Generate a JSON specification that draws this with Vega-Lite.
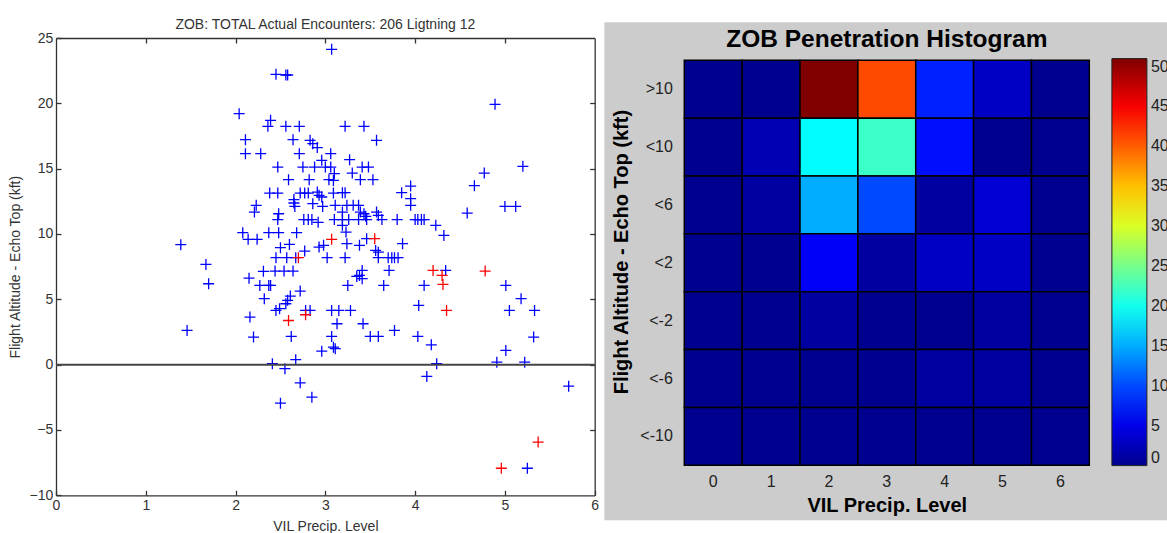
{
  "$schema": "https://vega.github.io/schema/vega-lite/v6.json",
  "background": "white",
  "padding": {"left": 8, "top": 18, "right": 0, "bottom": 0},
  "config": {"font": "Liberation Sans", "view": {"stroke": null}},
  "bounds": "flush",
  "spacing": 89.3,
  "resolve": {"scale": {"color": "independent"}},
  "hconcat": [
    {
      "width": 538.7,
      "height": 457.3,
      "title": {"text": "ZOB: TOTAL Actual Encounters: 206 Ligtning 12", "fontSize": 14, "fontWeight": "normal", "color": "#333", "frame": "group", "anchor": "middle", "offset": -1.3},
      "data": {"values": [
        {"vil":2.45,"alt":22.22,"lightning":"no"},{"vil":2.56,"alt":22.17,"lightning":"no"},{"vil":2.58,"alt":22.17,"lightning":"no"},
        {"vil":2.04,"alt":19.21,"lightning":"no"},{"vil":2.39,"alt":18.70,"lightning":"no"},{"vil":2.36,"alt":18.24,"lightning":"no"},
        {"vil":2.56,"alt":18.24,"lightning":"no"},{"vil":2.71,"alt":18.24,"lightning":"no"},{"vil":2.11,"alt":17.22,"lightning":"no"},
        {"vil":2.64,"alt":17.22,"lightning":"no"},{"vil":2.83,"alt":17.17,"lightning":"no"},{"vil":2.86,"alt":16.91,"lightning":"no"},
        {"vil":2.91,"alt":16.61,"lightning":"no"},{"vil":2.11,"alt":16.15,"lightning":"no"},{"vil":2.28,"alt":16.15,"lightning":"no"},
        {"vil":2.71,"alt":16.15,"lightning":"no"},{"vil":3.06,"alt":16.15,"lightning":"no"},{"vil":2.47,"alt":15.12,"lightning":"no"},
        {"vil":2.75,"alt":15.12,"lightning":"no"},{"vil":2.88,"alt":15.12,"lightning":"no"},{"vil":3.00,"alt":15.12,"lightning":"no"},
        {"vil":3.06,"alt":15.12,"lightning":"no"},{"vil":2.96,"alt":15.64,"lightning":"no"},{"vil":2.59,"alt":14.16,"lightning":"no"},
        {"vil":2.82,"alt":14.16,"lightning":"no"},{"vil":3.04,"alt":14.16,"lightning":"no"},{"vil":3.09,"alt":14.10,"lightning":"no"},
        {"vil":2.38,"alt":13.13,"lightning":"no"},{"vil":2.47,"alt":13.13,"lightning":"no"},{"vil":2.72,"alt":13.13,"lightning":"no"},
        {"vil":2.77,"alt":13.13,"lightning":"no"},{"vil":2.81,"alt":13.13,"lightning":"no"},{"vil":2.91,"alt":13.21,"lightning":"no"},
        {"vil":2.93,"alt":12.96,"lightning":"no"},{"vil":2.96,"alt":12.83,"lightning":"no"},{"vil":3.09,"alt":13.13,"lightning":"no"},
        {"vil":2.65,"alt":12.63,"lightning":"no"},
        {"vil":3.22,"alt":18.24,"lightning":"no"},{"vil":3.43,"alt":18.24,"lightning":"no"},{"vil":3.57,"alt":17.17,"lightning":"no"},
        {"vil":3.27,"alt":15.69,"lightning":"no"},{"vil":3.41,"alt":15.12,"lightning":"no"},{"vil":3.48,"alt":15.12,"lightning":"no"},
        {"vil":3.10,"alt":14.62,"lightning":"no"},{"vil":3.30,"alt":14.66,"lightning":"no"},{"vil":3.39,"alt":14.16,"lightning":"no"},
        {"vil":3.53,"alt":14.16,"lightning":"no"},{"vil":3.19,"alt":13.16,"lightning":"no"},{"vil":3.22,"alt":13.16,"lightning":"no"},
        {"vil":3.95,"alt":13.67,"lightning":"no"},{"vil":3.85,"alt":13.16,"lightning":"no"},{"vil":3.95,"alt":12.70,"lightning":"no"},
        {"vil":2.23,"alt":12.19,"lightning":"no"},{"vil":2.21,"alt":11.68,"lightning":"no"},{"vil":2.48,"alt":11.55,"lightning":"no"},
        {"vil":2.65,"alt":12.37,"lightning":"no"},{"vil":2.66,"alt":12.11,"lightning":"no"},{"vil":2.86,"alt":12.32,"lightning":"no"},
        {"vil":2.97,"alt":12.11,"lightning":"no"},{"vil":2.47,"alt":11.10,"lightning":"no"},{"vil":2.76,"alt":11.10,"lightning":"no"},
        {"vil":2.81,"alt":11.10,"lightning":"no"},{"vil":2.85,"alt":11.10,"lightning":"no"},{"vil":2.92,"alt":10.89,"lightning":"no"},
        {"vil":2.08,"alt":10.10,"lightning":"no"},{"vil":2.14,"alt":9.59,"lightning":"no"},{"vil":2.24,"alt":9.59,"lightning":"no"},
        {"vil":2.37,"alt":10.10,"lightning":"no"},{"vil":2.48,"alt":10.10,"lightning":"no"},{"vil":2.68,"alt":10.10,"lightning":"no"},
        {"vil":2.50,"alt":8.95,"lightning":"no"},{"vil":2.60,"alt":9.20,"lightning":"no"},{"vil":2.77,"alt":8.69,"lightning":"no"},
        {"vil":2.93,"alt":9.00,"lightning":"no"},{"vil":2.98,"alt":9.13,"lightning":"no"},{"vil":2.45,"alt":8.19,"lightning":"no"},
        {"vil":2.57,"alt":8.19,"lightning":"no"},{"vil":2.67,"alt":8.19,"lightning":"no"},{"vil":3.02,"alt":8.19,"lightning":"no"},
        {"vil":1.67,"alt":7.67,"lightning":"no"},{"vil":1.70,"alt":6.19,"lightning":"no"},{"vil":2.31,"alt":7.14,"lightning":"no"},
        {"vil":2.44,"alt":7.16,"lightning":"no"},{"vil":2.54,"alt":7.16,"lightning":"no"},{"vil":2.64,"alt":7.16,"lightning":"no"},
        {"vil":2.15,"alt":6.62,"lightning":"no"},{"vil":2.27,"alt":6.06,"lightning":"no"},{"vil":2.37,"alt":6.06,"lightning":"no"},
        {"vil":2.39,"alt":6.06,"lightning":"no"},{"vil":2.32,"alt":5.05,"lightning":"no"},{"vil":2.72,"alt":5.63,"lightning":"no"},
        {"vil":2.61,"alt":5.25,"lightning":"no"},{"vil":2.58,"alt":4.92,"lightning":"no"},{"vil":2.56,"alt":4.66,"lightning":"no"},
        {"vil":2.49,"alt":4.28,"lightning":"no"},{"vil":2.45,"alt":4.15,"lightning":"no"},{"vil":2.78,"alt":4.15,"lightning":"no"},
        {"vil":2.83,"alt":4.15,"lightning":"no"},{"vil":2.16,"alt":3.64,"lightning":"no"},{"vil":2.20,"alt":2.11,"lightning":"no"},
        {"vil":2.62,"alt":2.16,"lightning":"no"},{"vil":3.07,"alt":2.16,"lightning":"no"},{"vil":3.09,"alt":1.34,"lightning":"no"},
        {"vil":2.96,"alt":1.03,"lightning":"no"},{"vil":2.67,"alt":0.38,"lightning":"no"},{"vil":2.41,"alt":0.07,"lightning":"no"},
        {"vil":2.55,"alt":-0.31,"lightning":"no"},
        {"vil":3.11,"alt":12.19,"lightning":"no"},{"vil":3.24,"alt":12.19,"lightning":"no"},{"vil":3.31,"alt":12.19,"lightning":"no"},
        {"vil":3.37,"alt":12.19,"lightning":"no"},{"vil":3.19,"alt":11.68,"lightning":"no"},{"vil":3.39,"alt":11.68,"lightning":"no"},
        {"vil":3.43,"alt":11.55,"lightning":"no"},{"vil":3.45,"alt":11.35,"lightning":"no"},{"vil":3.57,"alt":11.68,"lightning":"no"},
        {"vil":3.59,"alt":11.42,"lightning":"no"},{"vil":3.95,"alt":12.19,"lightning":"no"},{"vil":4.58,"alt":11.60,"lightning":"no"},
        {"vil":3.10,"alt":11.10,"lightning":"no"},{"vil":3.19,"alt":11.10,"lightning":"no"},{"vil":3.26,"alt":11.10,"lightning":"no"},
        {"vil":3.37,"alt":11.10,"lightning":"no"},{"vil":3.46,"alt":11.10,"lightning":"no"},{"vil":3.63,"alt":11.10,"lightning":"no"},
        {"vil":3.80,"alt":11.10,"lightning":"no"},{"vil":4.00,"alt":11.10,"lightning":"no"},{"vil":4.03,"alt":11.10,"lightning":"no"},
        {"vil":4.07,"alt":11.10,"lightning":"no"},{"vil":4.10,"alt":11.10,"lightning":"no"},{"vil":3.19,"alt":10.66,"lightning":"no"},
        {"vil":3.23,"alt":10.15,"lightning":"no"},{"vil":4.23,"alt":10.66,"lightning":"no"},{"vil":4.32,"alt":9.89,"lightning":"no"},
        {"vil":3.24,"alt":9.26,"lightning":"no"},{"vil":3.38,"alt":9.13,"lightning":"no"},{"vil":3.46,"alt":9.64,"lightning":"no"},
        {"vil":3.56,"alt":8.74,"lightning":"no"},{"vil":3.59,"alt":8.61,"lightning":"no"},{"vil":3.86,"alt":9.26,"lightning":"no"},
        {"vil":3.22,"alt":8.19,"lightning":"no"},{"vil":3.59,"alt":8.19,"lightning":"no"},{"vil":3.70,"alt":8.19,"lightning":"no"},
        {"vil":3.74,"alt":8.19,"lightning":"no"},{"vil":3.77,"alt":8.19,"lightning":"no"},{"vil":3.81,"alt":8.19,"lightning":"no"},
        {"vil":3.71,"alt":7.21,"lightning":"no"},{"vil":3.41,"alt":7.21,"lightning":"no"},{"vil":3.38,"alt":6.83,"lightning":"no"},
        {"vil":3.35,"alt":6.75,"lightning":"no"},{"vil":3.41,"alt":6.58,"lightning":"no"},{"vil":4.34,"alt":7.21,"lightning":"no"},
        {"vil":3.25,"alt":6.06,"lightning":"no"},{"vil":3.65,"alt":6.06,"lightning":"no"},{"vil":4.10,"alt":6.06,"lightning":"no"},
        {"vil":3.15,"alt":4.15,"lightning":"no"},{"vil":3.28,"alt":4.15,"lightning":"no"},{"vil":4.04,"alt":4.53,"lightning":"no"},
        {"vil":3.13,"alt":3.13,"lightning":"no"},{"vil":3.42,"alt":3.13,"lightning":"no"},{"vil":3.77,"alt":2.62,"lightning":"no"},
        {"vil":3.50,"alt":2.16,"lightning":"no"},{"vil":3.59,"alt":2.16,"lightning":"no"},{"vil":4.03,"alt":2.16,"lightning":"no"},
        {"vil":3.11,"alt":1.22,"lightning":"no"},{"vil":4.18,"alt":1.52,"lightning":"no"},{"vil":4.24,"alt":0.07,"lightning":"no"},
        {"vil":3.07,"alt":4.15,"lightning":"no"},
        {"vil":1.39,"alt":9.18,"lightning":"no"},{"vil":1.46,"alt":2.62,"lightning":"no"},{"vil":3.07,"alt":24.13,"lightning":"no"},
        {"vil":4.89,"alt":19.92,"lightning":"no"},{"vil":5.20,"alt":15.18,"lightning":"no"},{"vil":4.77,"alt":14.66,"lightning":"no"},
        {"vil":4.66,"alt":13.70,"lightning":"no"},{"vil":5.00,"alt":12.11,"lightning":"no"},{"vil":5.12,"alt":12.11,"lightning":"no"},
        {"vil":5.01,"alt":6.06,"lightning":"no"},{"vil":5.18,"alt":5.05,"lightning":"no"},{"vil":5.05,"alt":4.15,"lightning":"no"},
        {"vil":5.33,"alt":4.15,"lightning":"no"},{"vil":5.32,"alt":2.11,"lightning":"no"},{"vil":5.01,"alt":1.09,"lightning":"no"},
        {"vil":4.91,"alt":0.19,"lightning":"no"},{"vil":5.22,"alt":0.19,"lightning":"no"},{"vil":4.13,"alt":-0.90,"lightning":"no"},
        {"vil":5.71,"alt":-1.65,"lightning":"no"},{"vil":5.25,"alt":-7.93,"lightning":"no"},{"vil":2.72,"alt":-1.39,"lightning":"no"},
        {"vil":2.85,"alt":-2.49,"lightning":"no"},{"vil":2.50,"alt":-2.95,"lightning":"no"},
        {"vil":3.07,"alt":9.59,"lightning":"yes"},{"vil":2.70,"alt":8.19,"lightning":"yes"},{"vil":2.78,"alt":3.82,"lightning":"yes"},
        {"vil":2.59,"alt":3.38,"lightning":"yes"},{"vil":3.55,"alt":9.64,"lightning":"yes"},{"vil":4.20,"alt":7.21,"lightning":"yes"},
        {"vil":4.30,"alt":6.83,"lightning":"yes"},{"vil":4.31,"alt":6.14,"lightning":"yes"},{"vil":4.35,"alt":4.15,"lightning":"yes"},
        {"vil":4.78,"alt":7.16,"lightning":"yes"},{"vil":5.37,"alt":-5.93,"lightning":"yes"},{"vil":4.96,"alt":-7.93,"lightning":"yes"}
      ]},
      "layer": [
        {
          "mark": {"type": "point", "shape": "M-1,0H1M0,-1V1", "filled": false, "strokeWidth": 1.3, "size": 121, "opacity": 1},
          "encoding": {
            "x": {"field": "vil", "type": "quantitative",
                  "scale": {"domain": [0, 6], "nice": false, "zero": false},
                  "axis": {"orient": "bottom", "values": [0,1,2,3,4,5,6], "title": "VIL Precip. Level", "grid": false,
                           "domainColor": "#333", "domainWidth": 1.3, "tickColor": "#333", "tickWidth": 1.3, "tickSize": -5,
                           "labelPadding": 8, "labelFontSize": 14, "labelColor": "#333", "labelFlush": false,
                           "titleFontSize": 14, "titleFontWeight": "normal", "titleColor": "#333", "titlePadding": 7}},
            "y": {"field": "alt", "type": "quantitative",
                  "scale": {"domain": [-10, 25], "nice": false, "zero": false},
                  "axis": {"orient": "left", "values": [-10,-5,0,5,10,15,20,25], "title": "Flight Altitude - Echo Top (kft)", "grid": false,
                           "domainColor": "#333", "domainWidth": 1.3, "tickColor": "#333", "tickWidth": 1.3, "tickSize": -5,
                           "labelPadding": 8.2, "labelFontSize": 14, "labelColor": "#333", "labelFlush": false,
                           "titleFontSize": 14, "titleFontWeight": "normal", "titleColor": "#333", "titlePadding": 6.7}},
            "color": {"field": "lightning", "type": "nominal",
                      "scale": {"domain": ["no", "yes"], "range": ["#0000ff", "#ff0000"]}, "legend": null}
          }
        },
        {
          "data": {"values": [{}]},
          "mark": {"type": "rule", "color": "#444", "strokeWidth": 2},
          "encoding": {
            "x": {"datum": 0, "type": "quantitative",
                  "axis": {"orient": "top", "values": [1,2,3,4,5], "labels": false, "title": null, "grid": false,
                           "domainColor": "#333", "domainWidth": 1.3, "tickColor": "#333", "tickWidth": 1.3, "tickSize": -5}},
            "x2": {"datum": 6},
            "y": {"datum": 0, "type": "quantitative",
                  "axis": {"orient": "right", "values": [-5,0,5,10,15,20], "labels": false, "title": null, "grid": false,
                           "domainColor": "#333", "domainWidth": 1.3, "tickColor": "#333", "tickWidth": 1.3, "tickSize": -5}}
          }
        }
      ],
      "resolve": {"axis": {"x": "independent", "y": "independent"}}
    },
    {
      "width": 405,
      "height": 427.3,
      "title": {"text": "ZOB Penetration Histogram", "fontSize": 24.5, "fontWeight": "bold", "color": "#000", "frame": "group", "anchor": "middle", "offset": -30},
      "layer": [
        {
          "data": {"values": [{}]},
          "mark": {"type": "rect", "color": "#cccccc"},
          "encoding": {
            "x": {"datum": -0.1975, "type": "quantitative", "scale": {"domain": [0, 1], "nice": false, "zero": false}, "axis": null},
            "x2": {"datum": 1.25},
            "y": {"datum": -0.1287, "type": "quantitative", "scale": {"domain": [0, 1], "nice": false, "zero": false}, "axis": null},
            "y2": {"datum": 1.0367}
          }
        },
        {
          "data": {"values": [
            {"vil":0,"alt":">10","count":0},{"vil":1,"alt":">10","count":0},{"vil":2,"alt":">10","count":51},{"vil":3,"alt":">10","count":41},{"vil":4,"alt":">10","count":8},{"vil":5,"alt":">10","count":3},{"vil":6,"alt":">10","count":0},
            {"vil":0,"alt":"<10","count":0},{"vil":1,"alt":"<10","count":2},{"vil":2,"alt":"<10","count":19},{"vil":3,"alt":"<10","count":22},{"vil":4,"alt":"<10","count":7},{"vil":5,"alt":"<10","count":0},{"vil":6,"alt":"<10","count":0},
            {"vil":0,"alt":"<6","count":0},{"vil":1,"alt":"<6","count":1},{"vil":2,"alt":"<6","count":15},{"vil":3,"alt":"<6","count":10},{"vil":4,"alt":"<6","count":1},{"vil":5,"alt":"<6","count":4},{"vil":6,"alt":"<6","count":0},
            {"vil":0,"alt":"<2","count":0},{"vil":1,"alt":"<2","count":0},{"vil":2,"alt":"<2","count":6},{"vil":3,"alt":"<2","count":1},{"vil":4,"alt":"<2","count":3},{"vil":5,"alt":"<2","count":3},{"vil":6,"alt":"<2","count":0},
            {"vil":0,"alt":"<-2","count":0},{"vil":1,"alt":"<-2","count":0},{"vil":2,"alt":"<-2","count":1},{"vil":3,"alt":"<-2","count":0},{"vil":4,"alt":"<-2","count":0},{"vil":5,"alt":"<-2","count":1},{"vil":6,"alt":"<-2","count":0},
            {"vil":0,"alt":"<-6","count":0},{"vil":1,"alt":"<-6","count":0},{"vil":2,"alt":"<-6","count":0},{"vil":3,"alt":"<-6","count":0},{"vil":4,"alt":"<-6","count":1},{"vil":5,"alt":"<-6","count":1},{"vil":6,"alt":"<-6","count":0},
            {"vil":0,"alt":"<-10","count":0},{"vil":1,"alt":"<-10","count":0},{"vil":2,"alt":"<-10","count":0},{"vil":3,"alt":"<-10","count":0},{"vil":4,"alt":"<-10","count":0},{"vil":5,"alt":"<-10","count":0},{"vil":6,"alt":"<-10","count":0}
          ]},
          "mark": {"type": "rect", "stroke": "#000", "strokeWidth": 1.5},
          "encoding": {
            "x": {"field": "vil", "type": "ordinal",
                  "scale": {"paddingInner": 0, "paddingOuter": 0},
                  "axis": {"orient": "bottom", "title": "VIL Precip. Level", "labelAngle": 0, "domain": false, "ticks": false,
                           "labelFontSize": 16, "labelColor": "#222", "labelPadding": 8,
                           "titleFontSize": 20, "titleFontWeight": "bold", "titleColor": "#000", "titlePadding": 6, "zindex": 1}},
            "y": {"field": "alt", "type": "ordinal", "sort": [">10", "<10", "<6", "<2", "<-2", "<-6", "<-10"],
                  "scale": {"paddingInner": 0, "paddingOuter": 0.1925, "align": 1},
                  "axis": {"orient": "left", "title": "Flight Altitude - Echo Top (kft)", "domain": false, "ticks": false,
                           "labelFontSize": 16, "labelColor": "#222", "labelPadding": 12,
                           "titleFontSize": 20, "titleFontWeight": "bold", "titleColor": "#000", "titlePadding": 8, "zindex": 1}},
            "color": {"field": "count", "type": "quantitative",
                      "scale": {"domain": [0, 6.375, 19.125, 31.875, 44.625, 51], "range": ["#00008f", "#0000ff", "#00ffff", "#ffff00", "#ff0000", "#800000"], "interpolate": "rgb"},
                      "legend": {"title": null, "orient": "right", "direction": "vertical", "gradientLength": 407, "gradientThickness": 35,
                                 "gradientStrokeColor": "#222", "gradientStrokeWidth": 1, "labelFontSize": 16, "labelColor": "#222",
                                 "labelOffset": 4, "values": [0,5,10,15,20,25,30,35,40,45,50], "labelFlush": false, "labelOverlap": false,
                                 "offset": 2.4, "padding": 20.6}}
          }
        }
      ],
      "resolve": {"scale": {"x": "independent", "y": "independent"}}
    }
  ]
}
